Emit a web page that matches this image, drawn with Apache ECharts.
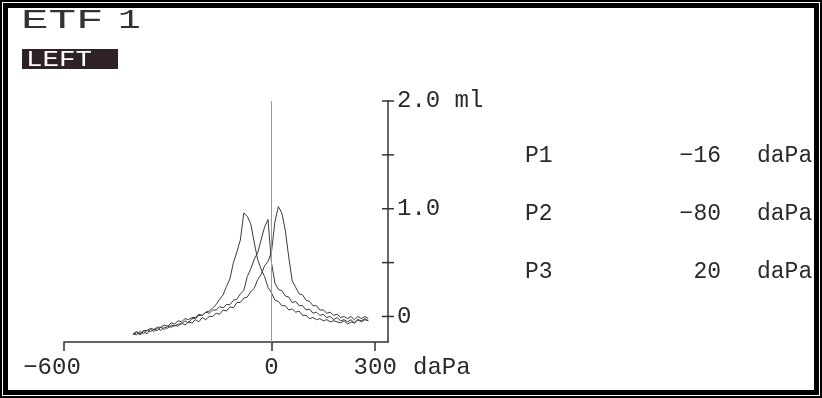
<!DOCTYPE html>
<html>
<head>
<meta charset="utf-8">
<style>
  html, body { margin: 0; padding: 0; background: #fff; }
  #chart { width: 822px; height: 398px; }
</style>
<script src="https://cdn.jsdelivr.net/npm/echarts@6/dist/echarts.min.js"></script>
</head>
<body>
<div id="chart"></div>
<script>
// pressure steps (daPa)
const pressures = [
  -400, -390, -380, -370, -360, -350, -340, -330, -320, -310,
  -300, -290, -280, -270, -260, -250, -240, -230, -220, -210,
  -200, -190, -180, -170, -160, -150, -140, -130, -120, -110,
  -100, -90, -80, -70, -60, -50, -40, -30, -20, -10,
  0, 10, 20, 30, 40, 50, 60, 70, 80, 90,
  100, 110, 120, 130, 140, 150, 160, 170, 180, 190,
  200, 210, 220, 230, 240, 250, 260, 270, 280
]

// curve peaking near -80 daPa (ml)
const curveA = [
  -0.17, -0.15, -0.17, -0.14, -0.16, -0.12, -0.14, -0.11, -0.13, -0.10,
  -0.11, -0.08, -0.09, -0.07, -0.07, -0.04, -0.06, -0.02, -0.02, 0.01,
  0.01, 0.04, 0.05, 0.08, 0.11, 0.16, 0.20, 0.28, 0.35, 0.50,
  0.60, 0.71, 0.96, 0.93, 0.86, 0.69, 0.53, 0.44, 0.37, 0.27,
  0.22, 0.15, 0.14, 0.10, 0.10, 0.06, 0.07, 0.04, 0.05, 0.01,
  0.01, -0.02, -0.01, -0.03, -0.02, -0.04, -0.03, -0.05, -0.04, -0.05,
  -0.06, -0.04, -0.07, -0.05, -0.06, -0.03, -0.05, -0.03, -0.04
]

// curve peaking near -16 daPa
const curveB = [
  -0.16, -0.14, -0.16, -0.13, -0.13, -0.11, -0.12, -0.10, -0.10, -0.08,
  -0.09, -0.06, -0.07, -0.04, -0.05, -0.02, -0.03, -0.01, -0.01, 0.02,
  0.01, 0.04, 0.03, 0.06, 0.06, 0.09, 0.08, 0.11, 0.11, 0.15,
  0.16, 0.21, 0.24, 0.37, 0.44, 0.53, 0.59, 0.71, 0.83, 0.90,
  0.50, 0.31, 0.25, 0.24, 0.19, 0.18, 0.13, 0.14, 0.10, 0.10,
  0.06, 0.07, 0.03, 0.04, 0.01, 0.02, -0.01, 0.00, -0.03, -0.01,
  -0.04, -0.03, -0.05, -0.03, -0.06, -0.03, -0.04, -0.02, -0.04
]

// curve peaking near 20 daPa
const curveC = [
  -0.16, -0.17, -0.14, -0.16, -0.13, -0.14, -0.12, -0.13, -0.10, -0.12,
  -0.09, -0.10, -0.08, -0.09, -0.06, -0.08, -0.05, -0.06, -0.03, -0.05,
  -0.01, -0.03, 0.00, 0.00, 0.03, 0.02, 0.06, 0.05, 0.09, 0.08,
  0.13, 0.13, 0.17, 0.18, 0.23, 0.26, 0.34, 0.39, 0.47, 0.51,
  0.60, 0.88, 1.02, 0.96, 0.80, 0.55, 0.33, 0.27, 0.21, 0.20,
  0.15, 0.14, 0.10, 0.10, 0.06, 0.06, 0.03, 0.04, 0.01, 0.02,
  -0.01, 0.00, -0.02, 0.00, -0.03, 0.00, -0.02, 0.00, -0.02
]

// axis ticks / labels
const xTickValues = [-600, 0, 300]
const xTickLabels = ['−600', '0', '300']
const yTickValues = [0, 0.5, 1, 1.5, 2]
const yLabelValues = [0, 1, 2]
const yLabelTexts = ['0', '1.0', '2.0 ml']

// peak pressure readout
const peakNames = ['P1', 'P2', 'P3']
const peakValues = [-16, -80, 20]
const peakUnit = 'daPa'

const MONO = '"Liberation Mono", "DejaVu Sans Mono", monospace'
const INK = '#2a2a2a'
const X_MIN = -600
const X_MAX = 337

const chart = echarts.init(document.getElementById('chart'))

const toPairs = vals => pressures.map((p, i) => [p, vals[i]])

const curveSeries = [curveA, curveB, curveC].map(vals => ({
  type: 'line',
  data: toPairs(vals),
  showSymbol: false,
  symbol: 'none',
  lineStyle: { color: '#3a3a3a', width: 1 },
  silent: true
}))

// zero pressure reference line
curveSeries[0].markLine = {
  silent: true,
  symbol: 'none',
  label: { show: false },
  lineStyle: { color: '#9a9a9a', width: 1, type: 'solid' },
  data: [{ xAxis: 0 }]
}

// cross-shaped ticks on the volume axis (ECharts ticks only go one way)
const crossTicks = {
  type: 'custom',
  silent: true,
  clip: false,
  data: yTickValues.map(v => [X_MAX, v]),
  renderItem: (params, api) => {
    const pt = api.coord([api.value(0), api.value(1)])
    return {
      type: 'line',
      shape: { x1: pt[0] - 6, y1: pt[1], x2: pt[0] + 6, y2: pt[1] },
      style: { stroke: '#333', lineWidth: 1.5 }
    }
  }
}

// P1..P3 readout rows
const rowY = [156, 214, 272]
const readout = []
peakNames.forEach((name, i) => {
  const base = { fontFamily: MONO, fontSize: 23, fill: INK, verticalAlign: 'middle' }
  readout.push({ type: 'text', x: 525, y: rowY[i], style: Object.assign({ text: name }, base) })
  readout.push({ type: 'text', x: 721, y: rowY[i], style: Object.assign({ text: String(peakValues[i]).replace('-', '−'), align: 'right' }, base) })
  readout.push({ type: 'text', x: 757, y: rowY[i], style: Object.assign({ text: peakUnit }, base) })
})

const axisInk = { color: '#333', width: 1.5 }

const option = {
  animation: false,
  grid: { left: 64, right: 434, top: 101, bottom: 56 },
  xAxis: {
    type: 'value',
    min: X_MIN,
    max: X_MAX,
    name: 'daPa',
    nameLocation: 'end',
    nameGap: 25,
    nameTextStyle: { fontFamily: MONO, fontSize: 24, color: INK, verticalAlign: 'top', padding: [14, 0, 0, 0] },
    axisLine: { show: true, onZero: false, lineStyle: axisInk },
    axisTick: { show: true, length: 9, customValues: xTickValues, lineStyle: axisInk },
    axisLabel: {
      show: true,
      margin: 14,
      customValues: xTickValues,
      fontFamily: MONO,
      fontSize: 24,
      color: INK,
      formatter: v => {
        const t = xTickLabels[xTickValues.indexOf(v)]
        return v === -600 ? '{w|' + t + '}' : t
      },
      rich: { w: { fontFamily: MONO, fontSize: 24, color: INK, padding: [0, 24, 0, 0] } }
    },
    splitLine: { show: false }
  },
  yAxis: {
    type: 'value',
    position: 'right',
    min: -0.237,
    max: 2,
    axisLine: { show: true, onZero: false, lineStyle: axisInk },
    axisTick: { show: false },
    axisLabel: {
      show: true,
      margin: 9,
      customValues: yLabelValues,
      fontFamily: MONO,
      fontSize: 24,
      color: INK,
      formatter: v => yLabelTexts[yLabelValues.indexOf(v)]
    },
    splitLine: { show: false }
  },
  graphic: [
    // double frame
    { type: 'rect', shape: { x: 1, y: 1, width: 820, height: 396 }, style: { fill: 'none', stroke: '#000', lineWidth: 2 } },
    { type: 'rect', shape: { x: 5.5, y: 5.5, width: 811, height: 387 }, style: { fill: 'none', stroke: '#000', lineWidth: 5 } },
    // title
    { type: 'text', x: 21, y: 21, scaleX: 1.7, style: { text: 'ETF', fontFamily: MONO, fontSize: 27, fill: '#333', verticalAlign: 'middle' } },
    { type: 'text', x: 118, y: 21, scaleX: 1.4, style: { text: '1', fontFamily: MONO, fontSize: 27, fill: '#333', verticalAlign: 'middle' } },
    // LEFT badge
    { type: 'rect', shape: { x: 22, y: 49, width: 96, height: 20 }, style: { fill: '#2e2224' } },
    { type: 'text', x: 26, y: 60, scaleX: 1.25, style: { text: 'LEFT', fontFamily: MONO, fontSize: 22, fill: '#fff', verticalAlign: 'middle' } }
  ].concat(readout),
  series: curveSeries.concat([crossTicks])
}

chart.setOption(option)
</script>
</body>
</html>
